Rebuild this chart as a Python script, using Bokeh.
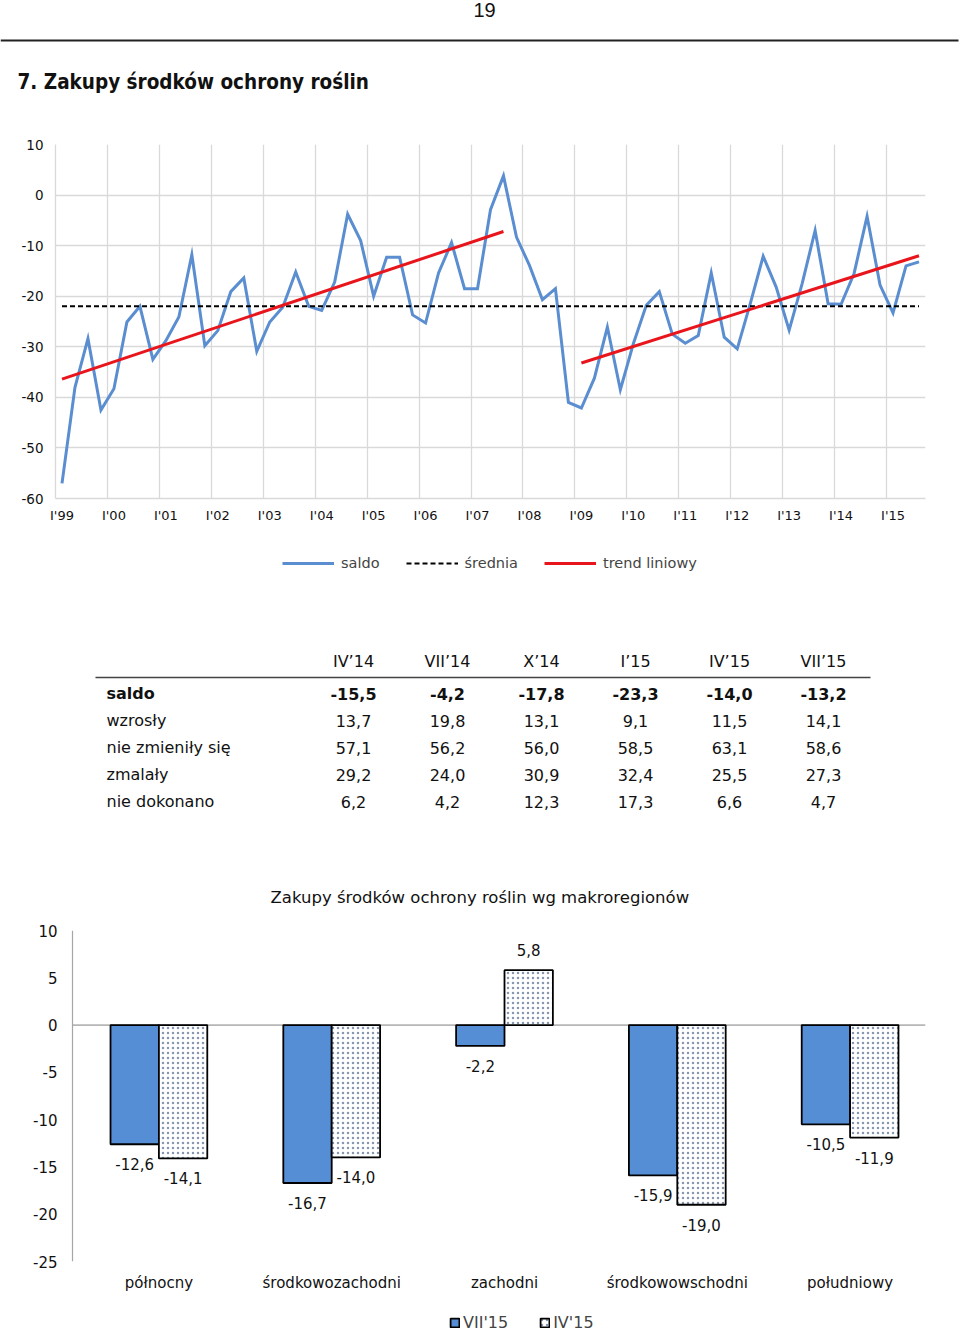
from bokeh.plotting import figure
from bokeh.models import (Range1d, FixedTicker, ColumnDataSource, Legend, LegendItem,
                          LabelSet, Span)
from bokeh.transform import dodge
from bokeh.layouts import column
from bokeh.embed import file_html
from bokeh.resources import INLINE
from bokeh.core.properties import value

# ---------------- data ----------------
page_number = "19"
section_title = "7. Zakupy środków ochrony roślin"

saldo = [-57.0, -38.0, -28.4, -42.5, -38.3, -25.1, -22.0, -32.5, -28.8, -24.1,
         -11.8, -29.8, -26.8, -19.1, -16.4, -30.9, -25.1, -22.2, -15.2, -22.0,
         -22.8, -17.2, -3.8, -9.0, -20.0, -12.3, -12.3, -23.7, -25.3, -15.4,
         -9.4, -18.5, -18.5, -2.9, 3.8, -8.3, -13.9, -20.7, -18.5, -41.0,
         -42.1, -36.2, -26.1, -38.5, -29.4, -21.8, -19.1, -27.5, -29.3, -27.8,
         -15.4, -28.1, -30.4, -21.5, -12.1, -18.2, -26.7, -17.5, -7.0, -21.5,
         -21.6, -15.5, -4.2, -17.8, -23.3, -14.0, -13.2]
quarter_names = ["I", "IV", "VII", "X"]
first_year = 1999
period_labels = [f"{quarter_names[i % 4]}'{(first_year + i // 4) % 100:02d}"
                 for i in range(len(saldo))]

srednia_periods = ["I'99", "VII'15"]
srednia_values = [-22.0, -22.0]
trend1_periods = ["I'99", "VII'07"]
trend1_values = [-36.4, -7.2]
trend2_periods = ["I'09", "VII'15"]
trend2_values = [-33.2, -12.0]

line_legend_labels = ["saldo", "średnia", "trend liniowy"]

table_columns = ["IV’14", "VII’14", "X’14", "I’15", "IV’15", "VII’15"]
table_row_names = ["saldo", "wzrosły", "nie zmieniły się", "zmalały", "nie dokonano"]
tab_saldo = ["-15,5", "-4,2", "-17,8", "-23,3", "-14,0", "-13,2"]
tab_wzrosly = ["13,7", "19,8", "13,1", "9,1", "11,5", "14,1"]
tab_nie_zmienily = ["57,1", "56,2", "56,0", "58,5", "63,1", "58,6"]
tab_zmalaly = ["29,2", "24,0", "30,9", "32,4", "25,5", "27,3"]
tab_nie_dokonano = ["6,2", "4,2", "12,3", "17,3", "6,6", "4,7"]
table_rows = [tab_saldo, tab_wzrosly, tab_nie_zmienily, tab_zmalaly, tab_nie_dokonano]

bar_title = "Zakupy środków ochrony roślin wg makroregionów"
regions = ["północny", "środkowozachodni", "zachodni", "środkowowschodni", "południowy"]
series_names = ["VII'15", "IV'15"]
vii15 = [-12.6, -16.7, -2.2, -15.9, -10.5]
iv15 = [-14.1, -14.0, 5.8, -19.0, -11.9]

# ---------------- styles / layout ----------------
FONT = "DejaVu Sans"
BLUE_LINE = "#5a8ed0"
RED = "#e8161c"
BAR_BLUE = "#558ed5"
W = 960
BL, BR = 55, 35          # common left/right borders (frames of aligned figures)
FRAME_W = W - BL - BR

saldo_style = dict(line_color=BLUE_LINE, line_width=3)
sred_style = dict(line_color="black", line_width=2, line_dash="5 3")
trend_style = dict(line_color=RED, line_width=3)
vii_style = dict(fill_color=BAR_BLUE, line_color="black", line_width=1.8)
iv_style = dict(fill_color="white", hatch_pattern="dot", hatch_color="#8897b0",
                hatch_scale=5, hatch_weight=0.8, line_color="black", line_width=1.8)


def blank_fig(h, left=BL, right=BR):
    f = figure(width=W, height=h, x_range=Range1d(left, W - right), y_range=Range1d(h, 0),
               toolbar_location=None, output_backend="svg",
               min_border_left=left, min_border_right=right, min_border_top=0,
               min_border_bottom=0)
    f.axis.visible = False
    f.grid.visible = False
    f.outline_line_color = None
    return f


def hyphen_labels(ticks):
    return {t: str(t) for t in ticks}


# ---------------- header (full width, kept out of frame alignment) ----------------
header = blank_fig(120, left=0, right=0)
header.text(x=[484], y=[9], text=[page_number], text_font=value("Liberation Sans"),
            text_font_size="20px", text_align="center", text_baseline="middle",
            text_color="#111")
header.line(x=[0, 958], y=[40, 40], line_color="#222", line_width=2)
header.text(x=[17], y=[81], text=[section_title], text_font=value("DejaVu Sans Condensed"),
            text_font_style="bold", text_font_size="20.5px", text_align="left",
            text_baseline="middle", text_color="#111")

# ---------------- line chart ----------------
xs = list(range(len(saldo)))
lp = figure(width=W, height=420, x_range=Range1d(-0.5, len(saldo) - 0.5),
            y_range=Range1d(-60, 10), toolbar_location=None, output_backend="svg",
            min_border_left=BL, min_border_right=BR, min_border_top=24, min_border_bottom=42)
lp.outline_line_color = None
year_ticks = [i for i, lab in enumerate(period_labels) if lab.startswith("I'")]
lp.xaxis.ticker = FixedTicker(ticks=year_ticks)
lp.xaxis.major_label_overrides = {i: period_labels[i] for i in year_ticks}
lp.xaxis.major_tick_out = 0
lp.xaxis.major_tick_in = 0
lp.xaxis.minor_tick_line_color = None
lp.xaxis.axis_line_color = "#d9d9d9"
lp.xaxis.axis_line_width = 1.3
lp.xaxis.major_label_standoff = 9
lp.xaxis.major_label_text_font = FONT
lp.xaxis.major_label_text_font_size = "13px"
lp.xaxis.major_label_text_color = "#111"
y_ticks = list(range(-60, 11, 10))
lp.yaxis.ticker = FixedTicker(ticks=y_ticks)
lp.yaxis.major_label_overrides = hyphen_labels(y_ticks)
lp.yaxis.major_tick_out = 0
lp.yaxis.major_tick_in = 0
lp.yaxis.minor_tick_line_color = None
lp.yaxis.axis_line_color = "#d9d9d9"
lp.yaxis.axis_line_width = 1.3
lp.yaxis.major_label_standoff = 12
lp.yaxis.major_label_text_font = FONT
lp.yaxis.major_label_text_font_size = "13.5px"
lp.yaxis.major_label_text_color = "#111"
lp.ygrid.grid_line_color = "#d9d9d9"
lp.ygrid.grid_line_width = 1.3
lp.xgrid.ticker = FixedTicker(ticks=[t - 0.5 for t in year_ticks])
lp.xgrid.grid_line_color = "#d9d9d9"
lp.xgrid.grid_line_width = 1.3

lp.line(xs, saldo, line_join="miter", **saldo_style)
lp.line([period_labels.index(p) for p in srednia_periods], srednia_values, **sred_style)
lp.line([period_labels.index(p) for p in trend1_periods], trend1_values, **trend_style)
lp.line([period_labels.index(p) for p in trend2_periods], trend2_values, **trend_style)

# legend strip of the line chart
lleg = blank_fig(60)
k1 = lleg.line(xs, saldo, visible=False, **saldo_style)
k2 = lleg.line([period_labels.index(p) for p in srednia_periods], srednia_values,
               visible=False, **sred_style)
k3 = lleg.line([period_labels.index(p) for p in trend1_periods], trend1_values,
               visible=False, **trend_style)
lleg.add_layout(Legend(items=[LegendItem(label=line_legend_labels[0], renderers=[k1]),
                              LegendItem(label=line_legend_labels[1], renderers=[k2]),
                              LegendItem(label=line_legend_labels[2], renderers=[k3])],
                       orientation="horizontal", location=(227, 27), glyph_width=52,
                       glyph_height=20, label_text_font=FONT, label_text_font_size="14.5px",
                       label_standoff=7, spacing=26, border_line_color=None,
                       background_fill_alpha=0, inactive_fill_alpha=0, margin=0, padding=0))

# ---------------- table ----------------
tab = blank_fig(250)
col_x = [353 + 94 * i for i in range(len(table_columns))]
tab.text(x=col_x, y=[61] * len(col_x), text=table_columns, text_font=value(FONT),
         text_font_size="16px", text_align="center", text_baseline="middle", text_color="#111")
tab.line(x=[95, 870], y=[77, 77], line_color="#444", line_width=1.5)
for r, (name, vals) in enumerate(zip(table_row_names, table_rows)):
    yy = 93 + 27 * r
    style = "bold" if r == 0 else "normal"
    tab.text(x=[106], y=[yy], text=[name], text_font=value(FONT), text_font_style=style,
             text_font_size="16px", text_align="left", text_baseline="middle", text_color="#111")
    tab.text(x=col_x, y=[yy] * len(col_x), text=vals, text_font=value(FONT),
             text_font_style=style, text_font_size="16px", text_align="center",
             text_baseline="middle", text_color="#111")

# ---------------- bar chart ----------------
CAT_PX = 172.8                       # width of one region on screen
x_start = -0.5 - 17 / CAT_PX         # y axis sits 17px right of the frame edge
x_end = x_start + FRAME_W / CAT_PX
region_idx = list(range(len(regions)))
bp = figure(width=W, height=450, x_range=Range1d(x_start, x_end), y_range=Range1d(-25, 10),
            toolbar_location=None, output_backend="svg",
            min_border_left=BL, min_border_right=BR, min_border_top=80, min_border_bottom=39)
bp.outline_line_color = None
bp.grid.visible = False
bp.title.text = bar_title
bp.title.align = "left"
bp.title.offset = 215
bp.title.text_font = FONT
bp.title.text_font_style = "normal"
bp.title.text_font_size = "16.5px"
bp.title.text_color = "#111"
bp.title.standoff = 48


def fmt(v):
    return f"{v:.1f}".replace(".", ",")


src = ColumnDataSource(dict(
    idx=region_idx, vii=vii15, iv=iv15,
    vii_txt=[fmt(v) for v in vii15], iv_txt=[fmt(v) for v in iv15],
    vii_off=[20 if v > 0 else -20 for v in vii15],
    iv_off=[20 if v > 0 else -20 for v in iv15]))

bp.add_layout(Span(location=-0.5, dimension="height", line_color="#a6a6a6", line_width=1.2))
bp.line(x=[-0.5, x_end], y=[0, 0], line_color="#808080", line_width=1)
bp.vbar(x=dodge("idx", -0.14), top="vii", bottom=0, width=0.28, source=src, **vii_style)
bp.vbar(x=dodge("idx", 0.14), top="iv", bottom=0, width=0.28, source=src, **iv_style)
for key, dx in (("vii", -0.14), ("iv", 0.14)):
    bp.add_layout(LabelSet(x=dodge("idx", dx), y=key, text=key + "_txt",
                           y_offset=key + "_off", source=src, text_align="center",
                           text_baseline="middle", text_font=value(FONT),
                           text_font_size="15px", text_color="#111"))
b_ticks = list(range(-25, 11, 5))
bp.yaxis.ticker = FixedTicker(ticks=b_ticks)
bp.yaxis.major_label_overrides = hyphen_labels(b_ticks)
bp.yaxis.major_tick_out = 0
bp.yaxis.major_tick_in = 0
bp.yaxis.minor_tick_line_color = None
bp.yaxis.axis_line_color = None
bp.yaxis.major_label_standoff = -2
bp.yaxis.major_label_text_font = FONT
bp.yaxis.major_label_text_font_size = "15px"
bp.yaxis.major_label_text_color = "#111"
bp.xaxis.ticker = FixedTicker(ticks=region_idx)
bp.xaxis.major_label_overrides = {i: regions[i] for i in region_idx}
bp.xaxis.axis_line_color = None
bp.xaxis.major_tick_out = 0
bp.xaxis.major_tick_in = 0
bp.xaxis.minor_tick_line_color = None
bp.xaxis.major_label_standoff = 12
bp.xaxis.major_label_text_font = FONT
bp.xaxis.major_label_text_font_size = "15px"
bp.xaxis.major_label_text_color = "#111"

# legend strip of the bar chart
bleg = blank_fig(32)
q1 = bleg.vbar(x=dodge("idx", -0.14), top="vii", bottom=0, width=0.28, source=src,
               visible=False, **vii_style)
q2 = bleg.vbar(x=dodge("idx", 0.14), top="iv", bottom=0, width=0.28, source=src,
               visible=False, **iv_style)
bleg.add_layout(Legend(items=[LegendItem(label=series_names[0], renderers=[q1]),
                              LegendItem(label=series_names[1], renderers=[q2])],
                       orientation="horizontal", location=(394, 0), glyph_width=11,
                       glyph_height=11, label_text_font=FONT, label_text_font_size="16px",
                       label_standoff=3, spacing=31, border_line_color=None,
                       background_fill_alpha=0, inactive_fill_alpha=0, margin=0, padding=0))

page = column(column(header), lp, lleg, tab, bp, bleg, spacing=0)
open("out.html", "w").write(file_html(page, INLINE))
